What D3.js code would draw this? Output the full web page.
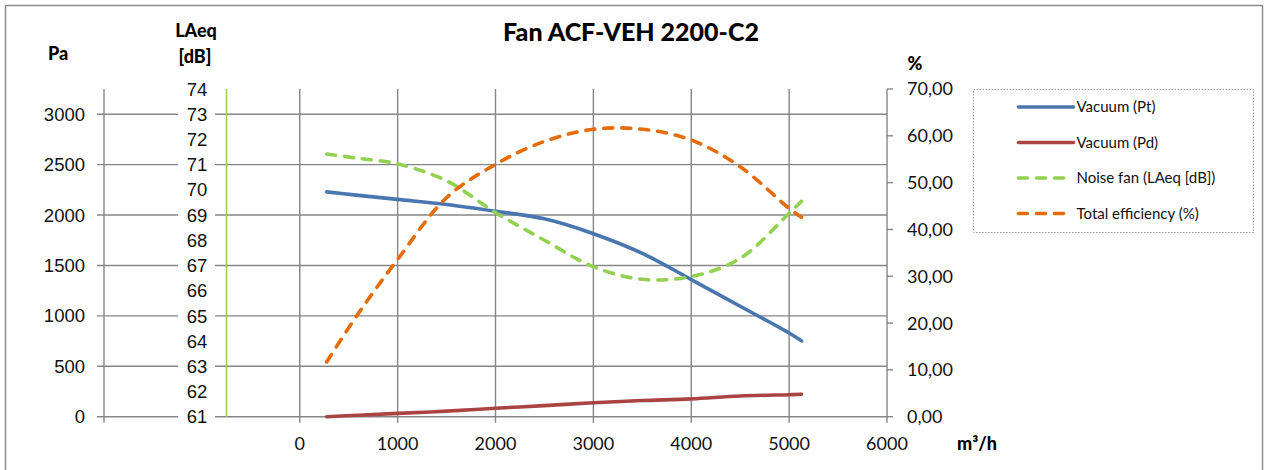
<!DOCTYPE html>
<html>
<head>
<meta charset="utf-8">
<script src="https://cdn.jsdelivr.net/npm/d3@7"></script>
<style>
	body{margin:0;background:#fff;}
	svg{display:block;}
</style>
</head>
<body>
<svg id="chart" width="1270" height="470"></svg>
<script>
// 数据
var flow      = [275, 600, 1000, 1500, 2000, 2500, 3000, 3500, 4000, 4500, 5000, 5127];
var vacuumPt  = [2230, 2195, 2155, 2105, 2038, 1962, 1815, 1620, 1360, 1095, 830, 752];
var vacuumPd  = [0, 15, 33, 55, 84, 110, 138, 160, 177, 205, 218, 222];
var noiseDb   = [71.42, 71.25, 71.03, 70.36, 69.1, 68.0, 66.95, 66.45, 66.56, 67.28, 69.07, 69.55];
var effPct    = [11.7, 22.1, 33.6, 46.8, 53.9, 58.8, 61.4, 61.4, 59.1, 53.4, 44.5, 42.6];

var xTicks   = [0, 1000, 2000, 3000, 4000, 5000, 6000];
var paTicks  = [0, 500, 1000, 1500, 2000, 2500, 3000];
var dbTicks  = [61, 62, 63, 64, 65, 66, 67, 68, 69, 70, 71, 72, 73, 74];
var pctTicks = [0, 10, 20, 30, 40, 50, 60, 70];
var seriesNames = ["Vacuum (Pt)", "Vacuum (Pd)", "Noise fan (LAeq [dB])", "Total efficiency (%)"];

var svg = d3.select("#chart");
var top_ = 89, bottom = 416.7, left = 104, right = 887;
var gridColor = "#868686";
var calibri = "Lato, 'Open Sans', sans-serif";
var arial = "'Liberation Sans', Arial, sans-serif";

var x    = d3.scaleLinear().domain([-2000, 6000]).range([left, right]);
var yPa  = d3.scaleLinear().domain([0, 3250]).range([bottom, top_]);
var yDb  = d3.scaleLinear().domain([61, 74]).range([bottom, top_]);
var yPct = d3.scaleLinear().domain([0, 70]).range([bottom, top_]);

// 外框
svg.append("rect")
	.attr("x", 5.5).attr("y", 5.5)
	.attr("width", 1257).attr("height", 480)
	.attr("fill", "none").attr("stroke", "#8c8c8c").attr("stroke-width", 1.5);

// 网格
var grid = svg.append("g").attr("stroke", gridColor).attr("stroke-width", 1.4);
grid.selectAll("line.h")
	.data(paTicks)
	.enter().append("line")
	.attr("class", "h")
	.attr("x1", left - 7)
	.attr("x2", right)
	.attr("y1", function(d){ return yPa(d); })
	.attr("y2", function(d){ return yPa(d); });
grid.selectAll("line.v")
	.data([-2000].concat(xTicks))
	.enter().append("line")
	.attr("class", "v")
	.attr("x1", function(d){ return x(d); })
	.attr("x2", function(d){ return x(d); })
	.attr("y1", top_)
	.attr("y2", bottom + 6);

// 右轴 刻度
grid.selectAll("line.r")
	.data(pctTicks)
	.enter().append("line")
	.attr("class", "r")
	.attr("x1", right).attr("x2", right + 6)
	.attr("y1", function(d){ return yPct(d); })
	.attr("y2", function(d){ return yPct(d); });

// LAeq 标签背景
svg.append("rect")
	.attr("x", 178).attr("y", top_ - 12)
	.attr("width", 37).attr("height", bottom - top_ + 24)
	.attr("fill", "#fff");

// LAeq 轴线 (绿色)
svg.append("line")
	.attr("x1", 226.5).attr("x2", 226.5)
	.attr("y1", top_).attr("y2", bottom)
	.attr("stroke", "#92D050").attr("stroke-width", 1.5);

// 轴标签
svg.append("g").selectAll("text")
	.data(paTicks).enter().append("text")
	.attr("x", 85).attr("y", function(d){ return yPa(d); })
	.attr("dy", "0.35em").attr("text-anchor", "end")
	.attr("font-family", arial).attr("font-size", 18.5).attr("fill", "#111")
	.text(function(d){ return d; });

svg.append("g").selectAll("text")
	.data(dbTicks).enter().append("text")
	.attr("x", 197).attr("y", function(d){ return yDb(d); })
	.attr("dy", "0.36em").attr("text-anchor", "middle")
	.attr("font-family", arial).attr("font-size", 18.5).attr("fill", "#111")
	.text(function(d){ return d; });

svg.append("g").selectAll("text")
	.data(pctTicks).enter().append("text")
	.attr("x", 907).attr("y", function(d){ return yPct(d); })
	.attr("dy", "0.36em")
	.attr("font-family", calibri).attr("font-size", 18).attr("fill", "#111")
	.text(function(d){ return d3.format(".2f")(d).replace(".", ","); });

svg.append("g").selectAll("text")
	.data(xTicks).enter().append("text")
	.attr("x", function(d){ return x(d); }).attr("y", 450)
	.attr("text-anchor", "middle")
	.attr("font-family", calibri).attr("font-size", 18).attr("fill", "#111")
	.text(function(d){ return d; });

// 标题和单位
function label(t, px, py, size, anchor){
	svg.append("text")
		.attr("x", px).attr("y", py)
		.attr("text-anchor", anchor || "middle")
		.attr("font-family", calibri).attr("font-weight", 900)
		.attr("font-size", size).attr("fill", "#000")
		.text(t);
}
label("Fan ACF-VEH 2200-C2", 631, 41, 25);
label("Pa", 58, 60, 18);
label("LAeq", 196, 37, 18);
label("[dB]", 195, 63, 18);
label("%", 915, 70, 18);
label("m³/h", 957, 450, 18, "start");

// 曲线
var rows = flow.map(function(f, i){
	return {f: f, pt: vacuumPt[i], pd: vacuumPd[i], db: noiseDb[i], eff: effPct[i]};
});
var series = [
	{key: "pt",  y: yPa,  color: "#4A76B0", dash: null},
	{key: "pd",  y: yPa,  color: "#AA4443", dash: null},
	{key: "db",  y: yDb,  color: "#92D050", dash: "9,9"},
	{key: "eff", y: yPct, color: "#E46C0A", dash: "9,9"}
];
var plot = svg.append("g");
series.forEach(function(s){
	var line = d3.line()
		.curve(d3.curveCatmullRom.alpha(0.5))
		.x(function(d){ return x(d.f); })
		.y(function(d){ return s.y(d[s.key]); });
	plot.append("path")
		.datum(rows)
		.attr("d", line)
		.attr("fill", "none")
		.attr("stroke", s.color)
		.attr("stroke-width", 3.6)
		.attr("stroke-linecap", "round")
		.attr("stroke-dasharray", s.dash);
});

// 图例
var legend = svg.append("g").attr("transform", "translate(973.5,89.5)");
legend.append("rect")
	.attr("width", 280).attr("height", 143)
	.attr("fill", "#fff").attr("stroke", "#9a9a9a")
	.attr("stroke-dasharray", "1.5,1.5");
legend.selectAll("g.item")
	.data(series).enter().append("g")
	.attr("class", "item")
	.attr("transform", function(d, i){ return "translate(0," + (17.5 + i * 35.5) + ")"; })
	.each(function(d, i){
		var g = d3.select(this);
		g.append("line")
			.attr("x1", 45).attr("x2", d.dash ? 97 : 100)
			.attr("stroke", d.color).attr("stroke-width", 3.6)
			.attr("stroke-linecap", "round")
			.attr("stroke-dasharray", d.dash ? "9,9" : null);
		g.append("text")
			.attr("x", 103).attr("dy", "0.35em")
			.attr("font-family", calibri).attr("font-size", 15).attr("fill", "#111")
			.text(seriesNames[i]);
	});
</script>
</body>
</html>
